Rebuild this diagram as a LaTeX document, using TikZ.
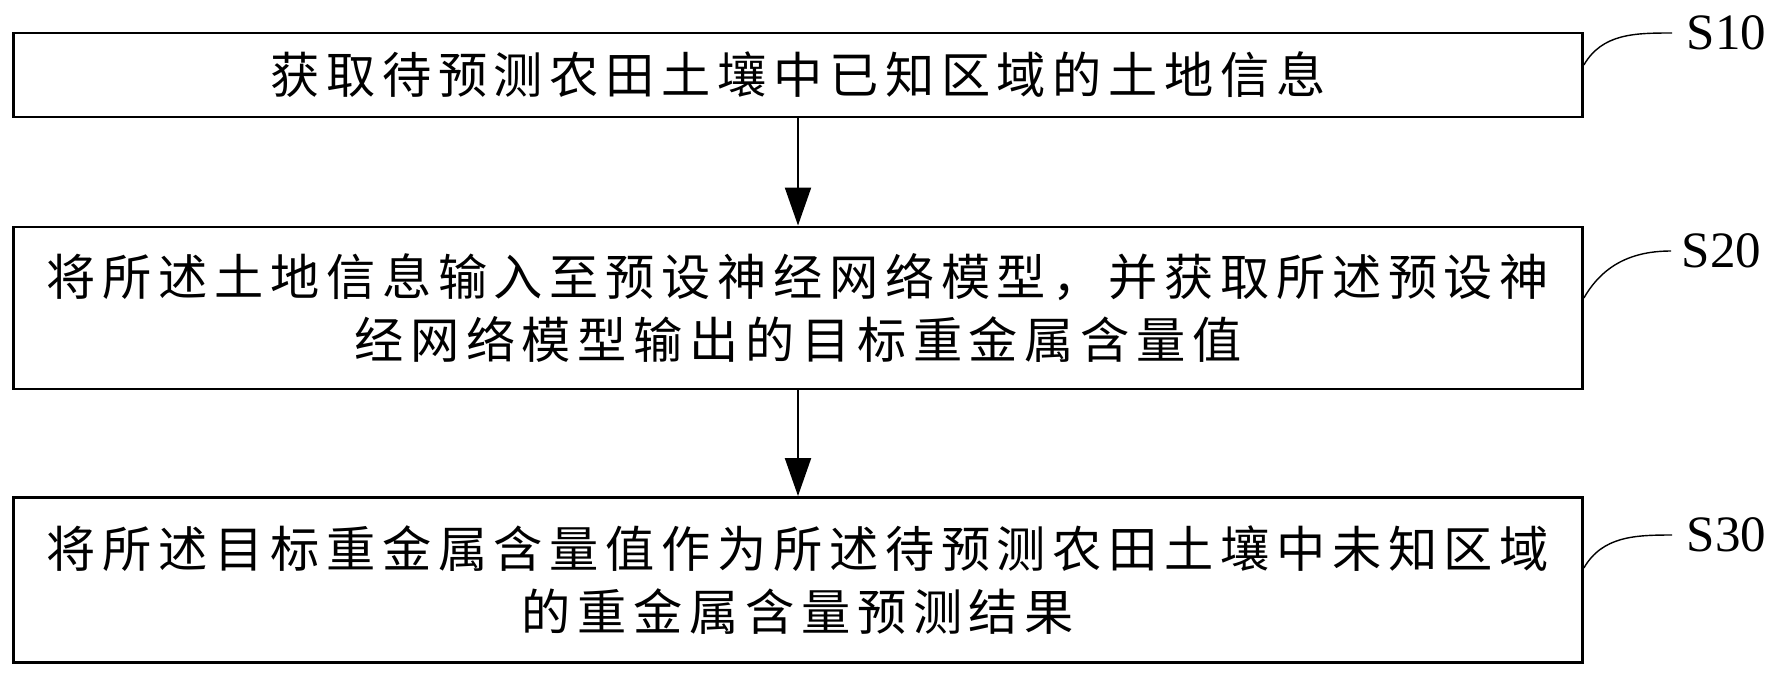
\documentclass[tikz,border=0pt]{standalone}
\usepackage{fontspec}
\setmainfont{Liberation Serif}
\newfontfamily\cjkfont[LetterSpace=13.5]{Noto Sans CJK SC}
\usetikzlibrary{arrows.meta}

\begin{document}
\begin{tikzpicture}[x=0.01cm,y=-0.01cm]

  \tikzstyle{stepbox} = [draw,line width=0.8pt,minimum width=15.68cm,inner sep=0pt,align=center,font=\cjkfont\fontsize{14pt}{17.9pt}\selectfont]
  \tikzstyle{steplabel} = [anchor=west,inner sep=0pt,font=\fontsize{14.5pt}{17pt}\selectfont]
  \tikzstyle{flow} = [line width=0.6pt,-{Triangle[length=0.38cm,width=0.26cm]}]
  \tikzstyle{tag} = [line width=0.4pt]

  \useasboundingbox (0,0) rectangle (1782,681);

  \node[stepbox,minimum height=0.84cm] (s10) at (798,75) {获取待预测农田土壤中已知区域的土地信息};
  \node[stepbox,minimum height=1.62cm] (s20) at (798,308) {将所述土地信息输入至预设神经网络模型，并获取所述预设神\\经网络模型输出的目标重金属含量值};
  \node[stepbox,minimum height=1.65cm] (s30) at (798,580) {将所述目标重金属含量值作为所述待预测农田土壤中未知区域\\的重金属含量预测结果};

  \draw[flow] (s10) -- (s20);
  \draw[flow] (s20) -- (s30);

  % step numbers
  \node[steplabel] (lab10) at (1686,33) {S10};
  \node[steplabel] (lab20) at (1681,251) {S20};
  \node[steplabel] (lab30) at (1686,535) {S30};

  \draw[tag] ([yshift=0.1cm]s10.east) to[out=60,in=180] ([xshift=-0.14cm]lab10.west);
  \draw[tag] ([yshift=0.1cm]s20.east) to[out=60,in=180] ([xshift=-0.1cm]lab20.west);
  \draw[tag] ([yshift=0.12cm]s30.east) to[out=60,in=180] ([xshift=-0.14cm]lab30.west);

\end{tikzpicture}
\end{document}
